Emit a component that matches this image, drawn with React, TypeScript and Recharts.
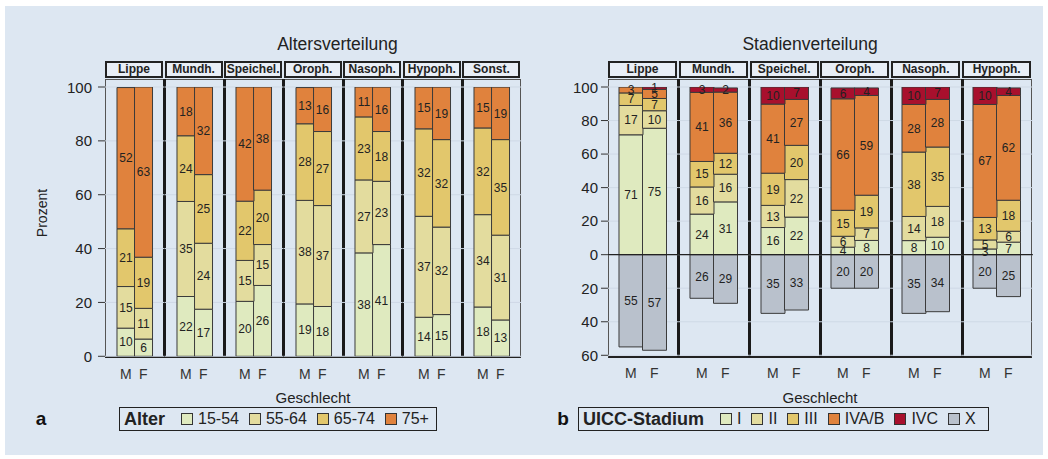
import { BarChart, Bar, XAxis, YAxis, CartesianGrid, LabelList, ReferenceLine } from 'recharts';

const FONT = '"Liberation Sans", Arial, Helvetica, sans-serif';

// ---- data -------------------------------------------------------------
const sites = ['Lippe', 'Mundh.', 'Speichel.', 'Oroph.', 'Nasoph.', 'Hypoph.', 'Sonst.'];
const stageSites = ['Lippe', 'Mundh.', 'Speichel.', 'Oroph.', 'Nasoph.', 'Hypoph.'];
const sexes = ['M', 'F'];

const ageGroups = ['15-54', '55-64', '65-74', '75+'];
// share in % per site, [M, F]
const age15to54 = [[10.45, 6.4], [22.2, 17.49], [20.4, 26.3], [19.45, 18.49], [38.4, 41.49], [14.49, 15.49], [18.3, 13.49]];
const age55to64 = [[15.45, 11.4], [35.3, 24.49], [15.2, 15.2], [38.45, 37.49], [27.1, 23.49], [37.49, 32.49], [34.3, 31.49]];
const age65to74 = [[21.45, 19.0], [24.4, 25.49], [22.0, 20.2], [28.45, 27.49], [23.4, 18.49], [32.49, 32.49], [32.2, 35.49]];
const age75plus = [[52.45, 63.2], [18.1, 32.49], [42.4, 38.3], [13.45, 16.49], [11.1, 16.49], [15.49, 19.49], [15.2, 19.49]];

const stages = ['I', 'II', 'III', 'IVA/B', 'IVC', 'X'];
const stageI = [[71.49, 75.4], [24.2, 31.49], [16.2, 22.4], [4.49, 8.49], [8.4, 10.4], [3.4, 7.49]];
const stageII = [[17.49, 10.45], [16.2, 16.49], [13.2, 22.4], [6.49, 7.49], [14.4, 18.4], [5.4, 6.49]];
const stageIII = [[7.49, 7.3], [15.2, 12.49], [19.2, 20.4], [15.49, 19.49], [38.4, 35.4], [13.4, 18.49]];
const stageIVAB = [[3.49, 5.45], [41.2, 36.49], [41.2, 27.4], [66.49, 59.49], [28.4, 28.4], [67.4, 62.49]];
const stageIVC = [[0, 1.4], [3.2, 2.49], [10.2, 7.4], [6.49, 4.49], [10.4, 7.4], [10.4, 4.49]];
// unknown stage, drawn below the zero line
const stageX = [[-55, -57], [-26, -29], [-35, -33], [-20, -20], [-35, -34], [-20, -25]];

const ageTicks = [0, 20, 40, 60, 80, 100];
const stageTicks = [-60, -40, -20, 0, 20, 40, 60, 80, 100];

const ageColors = ['#dfeabf', '#e3dc9e', '#e2c76c', '#e0823d'];
const stageColors = ['#dfeabf', '#e3dc9e', '#e2c76c', '#e0823d', '#a8102d', '#b9c1cc'];

type Row = Record<string, string | number>;

function buildRows(siteList: string[], keys: string[], series: number[][][]): Row[][] {
  return siteList.map((_, i) =>
    sexes.map((sex, j) => {
      const row: Row = { sex };
      keys.forEach((k, n) => {
        row[k] = series[n][i][j];
      });
      return row;
    })
  );
}

const ageRows = buildRows(sites, ageGroups, [age15to54, age55to64, age65to74, age75plus]);
const stageRows = buildRows(stageSites, stages, [stageI, stageII, stageIII, stageIVAB, stageIVC, stageX]);

// ---- layout -----------------------------------------------------------
const PLOT_TOP = 79;
const PAD_TOP = 8;
const A_LEFT = 105;
const A_STEP = 59.57;
const A_PLOT_H = 269.3;
const B_LEFT = 608;
const B_STEP = 70.83;
const B_PLOT_H = 268.3;

const segLabel = (v: unknown) => {
  const n = Number(v);
  return n ? String(Math.round(Math.abs(n))) : '';
};

type FacetProps = {
  rows: Row[];
  keys: string[];
  colors: string[];
  left: number;
  width: number;
  plotH: number;
  domain: [number, number];
  ticks: number[];
  padL: number;
  padR: number;
  axis?: { width: number; margin: number; fmt?: (v: number) => string };
  zero?: boolean;
};

function Facet({ rows, keys, colors, left, width, plotH, domain, ticks, padL, padR, axis, zero }: FacetProps) {
  const axisW = axis ? axis.width : 0;
  return (
    <div style={{ position: 'absolute', left: left - axisW, top: PLOT_TOP }}>
      <BarChart
        width={width + axisW}
        height={PAD_TOP + plotH + 30}
        data={rows}
        margin={{ top: PAD_TOP, right: 0, bottom: 0, left: 0 }}
        barCategoryGap={0}
        barGap={0}
        stackOffset="sign"
      >
        <CartesianGrid vertical={false} stroke="#cfd9e6" />
        <XAxis
          dataKey="sex"
          height={30}
          padding={{ left: padL, right: padR }}
          tickLine={false}
          axisLine={false}
          tickMargin={7}
          interval={0}
          tick={{ fontSize: 14, fill: '#333' }}
        />
        <YAxis
          type="number"
          domain={domain}
          ticks={ticks}
          allowDataOverflow
          hide={!axis}
          width={axisW}
          tickSize={7}
          tickMargin={axis ? axis.margin : 0}
          axisLine={false}
          tickLine={{ stroke: '#333' }}
          tick={{ fontSize: 15, fill: '#222' }}
          tickFormatter={axis?.fmt}
        />
        {keys.map((k, i) => (
          <Bar key={k} dataKey={k} stackId="s" fill={colors[i]} stroke="#3a3a3a" strokeWidth={1} isAnimationActive={false}>
            <LabelList dataKey={k} position="center" formatter={segLabel} fill="#222" stroke="none" fontSize={12} />
          </Bar>
        ))}
        {zero && <ReferenceLine y={0} stroke="#222" strokeWidth={1.3} />}
      </BarChart>
    </div>
  );
}

function Strip({ left, width, text }: { left: number; width: number; text: string }) {
  return (
    <div
      style={{
        position: 'absolute',
        left,
        top: 61,
        width,
        height: 17,
        boxSizing: 'border-box',
        border: '2px solid #222',
        background: '#e8eef6',
        fontSize: 12,
        fontWeight: 'bold',
        color: '#222',
        textAlign: 'center',
        lineHeight: '13px',
      }}
    >
      {text}
    </div>
  );
}

function Frame({ left, width, count, step }: { left: number; width: number; count: number; step: number }) {
  return (
    <>
      <div
        style={{
          position: 'absolute',
          left,
          top: PLOT_TOP,
          width,
          height: 278.5,
          boxSizing: 'border-box',
          border: '1px solid #555',
          borderBottom: '2px solid #222',
        }}
      />
      {Array.from({ length: count - 1 }, (_, i) => (
        <div
          key={i}
          style={{ position: 'absolute', left: left + (i + 1) * step - 1.5, top: PLOT_TOP, width: 3, height: 278, background: '#1a1a1a' }}
        />
      ))}
    </>
  );
}

function LegendBox({ left, width, title, items, colors }: { left: number; width: number; title: string; items: string[]; colors: string[] }) {
  return (
    <div
      style={{
        position: 'absolute',
        left,
        top: 407,
        width,
        height: 24,
        boxSizing: 'border-box',
        border: '1.5px solid #222',
        display: 'flex',
        alignItems: 'center',
        paddingLeft: 4,
        fontSize: 16,
        color: '#222',
        whiteSpace: 'nowrap',
      }}
    >
      <span style={{ fontWeight: 'bold', fontSize: 18, marginRight: 16 }}>{title}</span>
      {items.map((it, i) => (
        <span key={it} style={{ display: 'flex', alignItems: 'center', marginRight: 10 }}>
          <span style={{ width: 12, height: 12, boxSizing: 'border-box', border: '1px solid #333', background: colors[i], marginRight: 5 }} />
          {it}
        </span>
      ))}
    </div>
  );
}

const text = (left: number, top: number, content: string, extra: React.CSSProperties = {}) => (
  <div style={{ position: 'absolute', left, top, transform: 'translate(-50%, -50%)', whiteSpace: 'nowrap', color: '#222', ...extra }}>
    {content}
  </div>
);

export default function App() {
  return (
    <div style={{ position: 'absolute', left: 0, top: 0, width: 1048, height: 459, background: '#fff', fontFamily: FONT, overflow: 'hidden' }}>
      <div style={{ position: 'absolute', left: 5, top: 6, width: 1038, height: 449, background: '#dde7f2' }} />

      {/* panel a: age distribution */}
      {text(337.5, 44, 'Altersverteilung', { fontSize: 17.5 })}
      {sites.map((s, i) => (
        <Strip key={s} left={A_LEFT + i * A_STEP} width={58} text={s} />
      ))}
      <Frame left={A_LEFT} width={A_STEP * 7 - 0.5} count={7} step={A_STEP} />
      {ageRows.map((rows, i) => (
        <Facet
          key={sites[i]}
          rows={rows}
          keys={ageGroups}
          colors={ageColors}
          left={A_LEFT + i * A_STEP}
          width={A_STEP}
          plotH={A_PLOT_H}
          domain={[0, 100]}
          ticks={ageTicks}
          padL={12}
          padR={12.5}
          axis={i === 0 ? { width: 50, margin: 6 } : undefined}
        />
      ))}
      {text(42, 213, 'Prozent', { fontSize: 14, transform: 'translate(-50%, -50%) rotate(-90deg)' })}
      {text(313, 397, 'Geschlecht', { fontSize: 15 })}
      {text(41, 419, 'a', { fontSize: 19, fontWeight: 'bold', color: '#111' })}
      <LegendBox left={119} width={318} title="Alter" items={ageGroups} colors={ageColors} />

      {/* panel b: UICC stage distribution */}
      {text(810, 44, 'Stadienverteilung', { fontSize: 17.5 })}
      {stageSites.map((s, i) => (
        <Strip key={s} left={B_LEFT + i * B_STEP} width={69} text={s} />
      ))}
      <Frame left={B_LEFT} width={B_STEP * 6 - 0.5} count={6} step={B_STEP} />
      {stageRows.map((rows, i) => (
        <Facet
          key={stageSites[i]}
          rows={rows}
          keys={stages}
          colors={stageColors}
          left={B_LEFT + i * B_STEP}
          width={B_STEP}
          plotH={B_PLOT_H}
          domain={[-60, 100]}
          ticks={stageTicks}
          padL={11}
          padR={12.8}
          axis={i === 0 ? { width: 50, margin: 3, fmt: (v: number) => String(Math.abs(v)) } : undefined}
          zero
        />
      ))}
      {text(820, 397, 'Geschlecht', { fontSize: 15 })}
      {text(563, 419, 'b', { fontSize: 19, fontWeight: 'bold', color: '#111' })}
      <LegendBox left={578} width={411} title="UICC-Stadium" items={stages} colors={stageColors} />
    </div>
  );
}
